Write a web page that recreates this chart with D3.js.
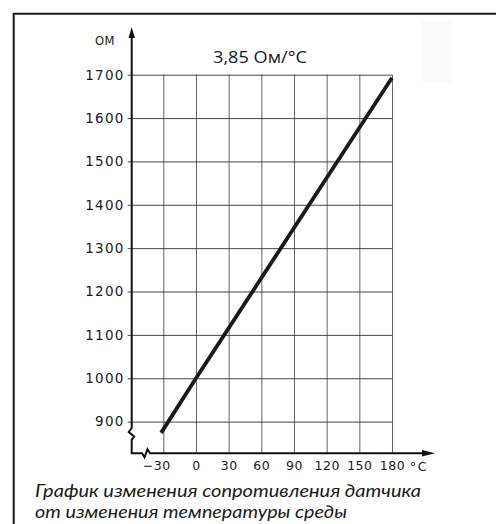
<!DOCTYPE html>
<html>
<head>
<meta charset="utf-8">
<script src="https://cdn.jsdelivr.net/npm/d3@7/dist/d3.min.js"></script>
<style>
html,body{margin:0;padding:0;background:#fff;}
svg{display:block;}
</style>
</head>
<body>
<svg id="c" width="496" height="524"></svg>
<script>
// ---- data ----
const tempTicks = [-30, 0, 30, 60, 90, 120, 150, 180];
const resTicks = [900, 1000, 1100, 1200, 1300, 1400, 1500, 1600, 1700];
const lineTemp = [-32, 0, 180];
const lineRes = [874, 1000, 1693];
const title = "3,85 Ом/°C";
const yUnit = "ОМ";
const xUnit = "°C";
const caption = ["График изменения сопротивления датчика", "от изменения температуры среды"];

// ---- layout ----
const svg = d3.select("#c");
const x = d3.scaleLinear().domain([-30, 180]).range([163.3, 392]);
const y = d3.scaleLinear().domain([900, 1700]).range([421.6, 74.7]);
const axisX = 131.7;
const axisY = 453.3;

svg.append("path").attr("d", `M13.7,524 V13.7 H496`).attr("fill", "none")
  .attr("stroke", "#1a1a1a").attr("stroke-width", 2);

svg.append("rect").attr("x", 421.7).attr("y", 21).attr("width", 31).attr("height", 61.7)
  .attr("fill", "#fbfbfb");

const gx = svg.append("g").attr("transform", `translate(0,${axisY})`)
  .call(d3.axisBottom(x).tickValues(tempTicks).tickSize(-(axisY - y(1700))).tickFormat(""));
gx.select(".domain").remove();
gx.selectAll(".tick line").attr("stroke", "#666").attr("stroke-width", 1);

const gy = svg.append("g").attr("transform", `translate(${axisX},0)`)
  .call(d3.axisLeft(y).tickValues(resTicks).tickSize(-(x(180) - axisX)).tickFormat(""));
gy.select(".domain").remove();
gy.selectAll(".tick line").attr("x1", -4).attr("stroke", "#333").attr("stroke-width", 0.9);

const ly = svg.append("g").attr("transform", `translate(${axisX},0)`)
  .call(d3.axisLeft(y).tickValues(resTicks).tickSize(0).tickPadding(7).tickFormat(d3.format("d")));
ly.select(".domain").remove();
ly.attr("font-family", null).attr("font-size", null);
ly.selectAll("text").style("font-family", "'DejaVu Sans'").style("font-size", "13.5px")
  .style("letter-spacing", "1.3px").attr("fill", "#1a1a1a");

const lx = svg.append("g").attr("transform", `translate(0,${axisY})`)
  .call(d3.axisBottom(x).tickValues(tempTicks).tickSize(0).tickPadding(8)
    .tickFormat(d => d < 0 ? "\u2212" + Math.abs(d) : String(d)));
lx.select(".domain").remove();
lx.attr("font-family", null).attr("font-size", null);
lx.selectAll("text").style("font-family", "'DejaVu Sans'").style("font-size", "12.5px")
  .style("letter-spacing", "0.5px").attr("fill", "#1a1a1a")
  .attr("dx", d => d < 0 ? -7 : 0);

const yAxisPath = d3.path();
yAxisPath.moveTo(axisX, 34);
yAxisPath.lineTo(axisX, 428);
yAxisPath.lineTo(axisX - 3, 432);
yAxisPath.lineTo(axisX + 2.5, 436.5);
yAxisPath.lineTo(axisX, 439.5);
yAxisPath.lineTo(axisX, axisY);
yAxisPath.lineTo(142, axisY);
yAxisPath.lineTo(144.5, axisY + 4);
yAxisPath.lineTo(147.5, axisY - 4);
yAxisPath.lineTo(150, axisY);
yAxisPath.lineTo(424, axisY);
svg.append("path").attr("d", yAxisPath.toString()).attr("fill", "none")
  .attr("stroke", "#111").attr("stroke-width", 2).attr("stroke-linejoin", "miter");

svg.append("path").attr("d", `M${axisX},27 L${axisX - 3.2},38 L${axisX + 3.2},38 Z`).attr("fill", "#111");
svg.append("path").attr("d", `M435,${axisY} L422,${axisY - 3.3} L422,${axisY + 3.3} Z`).attr("fill", "#111");

const pts = lineTemp.map((t, i) => [t, lineRes[i]]);
svg.append("path").datum(pts)
  .attr("d", d3.line().x(d => x(d[0])).y(d => y(d[1])))
  .attr("fill", "none").attr("stroke", "#1a1a1a").attr("stroke-width", 3.8);

svg.append("text").attr("x", 260).attr("y", 63.3).attr("text-anchor", "middle")
  .style("font-family", "'Open Sans'").style("font-size", "16.3px").attr("fill", "#1a1a1a")
  .attr("textLength", 94).attr("lengthAdjust", "spacingAndGlyphs").text(title);
svg.append("text").attr("x", 95).attr("y", 45).style("font-family", "'DejaVu Sans'")
  .style("font-size", "11.5px").style("letter-spacing", "0.5px").attr("fill", "#1a1a1a").text(yUnit);
svg.append("text").attr("x", 410).attr("y", 470.7).style("font-family", "'DejaVu Sans'")
  .style("font-size", "12.5px").style("letter-spacing", "1.5px").attr("fill", "#1a1a1a").text(xUnit);

const capW = [386, 312];
caption.forEach((c, i) => {
  svg.append("text").attr("x", 35).attr("y", 496.5 + i * 21)
    .style("font-family", "Lato").style("font-style", "italic").style("font-size", "17.5px")
    .attr("fill", "#1a1a1a").attr("textLength", capW[i]).attr("lengthAdjust", "spacingAndGlyphs")
    .text(c);
});
</script>
</body>
</html>
